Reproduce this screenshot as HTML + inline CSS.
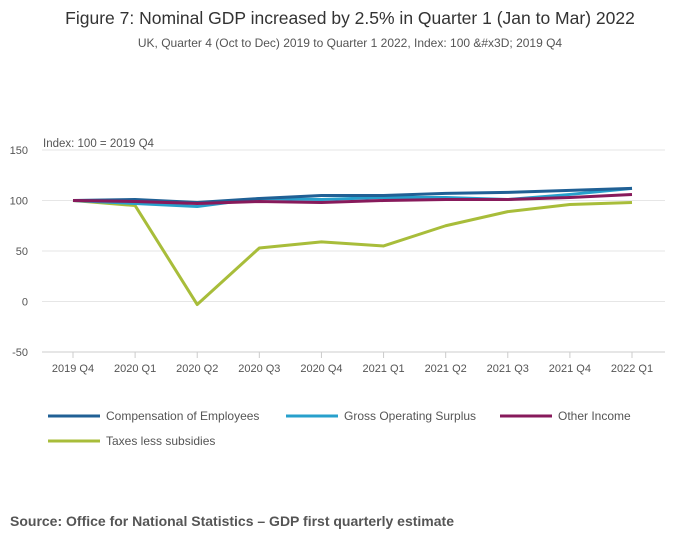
<!DOCTYPE html>
<html><head><meta charset="utf-8"><style>
body{margin:0;background:#fff;font-family:"Liberation Sans",sans-serif;}
svg text{font-family:"Liberation Sans",sans-serif;}
</style></head><body>
<svg id="c" width="700" height="549">
<text x="350" y="24" text-anchor="middle" font-size="17.5" fill="#333">Figure 7: Nominal GDP increased by 2.5% in Quarter 1 (Jan to Mar) 2022</text>
<text x="350" y="47" text-anchor="middle" font-size="12" fill="#555">UK, Quarter 4 (Oct to Dec) 2019 to Quarter 1 2022, Index: 100 &amp;#x3D; 2019 Q4</text>
<text x="43" y="147" font-size="11.5" fill="#555">Index: 100 = 2019 Q4</text>
<g id="grid"></g><g id="xt"></g><g id="lines"></g>
<g id="legend"></g>
<text x="10" y="526" font-size="14" font-weight="bold" fill="#555">Source: Office for National Statistics – GDP first quarterly estimate</text>
</svg>
<script>
const categories=["2019 Q4","2020 Q1","2020 Q2","2020 Q3","2020 Q4","2021 Q1","2021 Q2","2021 Q3","2021 Q4","2022 Q1"];
const yTicks=[150,100,50,0,-50];
const compEmployees=[100,101,98,102,105,105,107,108,110,112];
const grossSurplus=[100,97,94,102,101,103,103,101,106,112];
const otherIncome=[100,99,97,99,98,100,101,101,103,106];
const taxesLessSubsidies=[100,95,-3,53,59,55,75,89,96,98];
const seriesNames=["Compensation of Employees","Gross Operating Surplus","Other Income","Taxes less subsidies"];
const ns="http://www.w3.org/2000/svg";
const X0=42,X1=665,Y0=352,Y1=150;
const x=i=>73+i*(632-73)/(categories.length-1);
const y=v=>Y0-(v+50)*(Y0-Y1)/200;
function mk(t,a,p){const e=document.createElementNS(ns,t);for(const k in a)e.setAttribute(k,a[k]);p.appendChild(e);return e;}
const g=document.getElementById('grid');
yTicks.forEach(v=>{
const l=mk('line',{x1:X0,x2:X1,y1:y(v),y2:y(v),stroke:v===-50?'#ccc':'#e6e6e6'},g);


const t=mk('text',{x:28,y:y(v)+4,'text-anchor':'end','font-size':11,fill:'#555'},g);t.textContent=v;


});
const xt=document.getElementById('xt');
categories.forEach((c,i)=>{
mk('line',{x1:x(i),x2:x(i),y1:Y0,y2:Y0+6,stroke:'#ccc'},xt);
const t=mk('text',{x:x(i),y:372,'text-anchor':'middle','font-size':11,fill:'#555'},xt);t.textContent=c;


});
const colors=["#206095","#27a0cc","#871a5b","#a8bd3a"];
const data=[compEmployees,grossSurplus,otherIncome,taxesLessSubsidies];
const L=document.getElementById('lines');
[3,1,0,2].forEach(s=>{
const p=mk('polyline',{points:data[s].map((v,i)=>x(i)+','+y(v)).join(' '),fill:'none',stroke:colors[s],'stroke-width':3,'stroke-linejoin':'round'},L);


});
const lg=document.getElementById('legend');
const pos=[[48,416],[286,416],[500,416],[48,441]];
seriesNames.forEach((n,s)=>{
const e=mk('g',{},lg);


mk('line',{x1:pos[s][0],x2:pos[s][0]+52,y1:pos[s][1],y2:pos[s][1],stroke:colors[s],'stroke-width':3},e);
const t=mk('text',{x:pos[s][0]+58,y:pos[s][1]+4,'font-size':12,fill:'#555'},e);t.textContent=n;
});
</script>
</body></html>
